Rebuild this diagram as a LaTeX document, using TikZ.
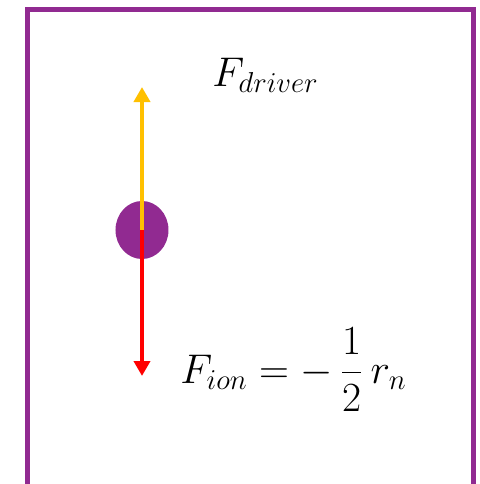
\documentclass[tikz,border=0pt]{standalone}
\usepackage{amsmath,xcolor,tikz}
\usetikzlibrary{arrows.meta,positioning,shapes.geometric}
\definecolor{purple}{RGB}{145,42,145}
\definecolor{gold}{RGB}{255,192,0}
\definecolor{red}{RGB}{255,0,0}

\begin{document}
\begin{tikzpicture}[>={Triangle[length=7.5pt,width=8pt]},x=0.5pt,y=0.5pt,
  force/.style={->,line width=2pt},
  label/.style={anchor=base west,inner sep=0pt,font=\fontsize{22}{26}\selectfont}]
\useasboundingbox (0,0) rectangle (480,484);
% box
\draw[purple,line width=2.5pt] (28,0)--(28,474.5)--(474,474.5)--(474,0);
% particle and forces
\node[ellipse,fill=purple,inner sep=0pt,minimum width=26.5pt,minimum height=29pt] (ion) at (142,254) {};
\coordinate (up) at (142,397);
\coordinate (down) at (142,108);
\draw[force,gold] (ion.center)--(up);
\draw[force,red] (ion.center)--(down);
\node[label] (drv) at (212,398) {$F_{driver}$};
\node[label] (fion) at (180,101) {$F_{ion}=-\,\dfrac{1}{2}\,r_n$};
\end{tikzpicture}
\end{document}
